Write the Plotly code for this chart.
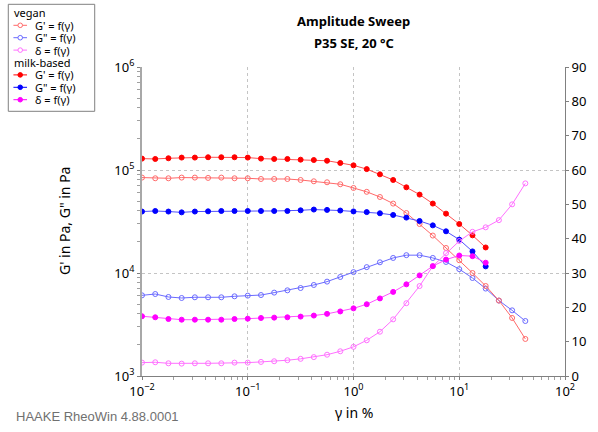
import plotly.graph_objects as go

# Strain amplitude (%), log-spaced measuring points
strain = [0.01, 0.01334, 0.01778, 0.02371, 0.03162, 0.04217, 0.05623, 0.07499,
          0.1, 0.1334, 0.1778, 0.2371, 0.3162, 0.4217, 0.5623, 0.7499,
          1.0, 1.334, 1.778, 2.371, 3.162, 4.217, 5.623, 7.499,
          10.0, 13.34, 17.78, 23.71, 31.62, 42.17]

# vegan sample (30 points)
vegan_gp = [8.44e4, 8.31e4, 8.31e4, 8.44e4, 8.44e4, 8.38e4, 8.44e4, 8.31e4,
            8.31e4, 8.18e4, 8.18e4, 8.18e4, 8.00e4, 7.77e4, 7.60e4, 7.27e4,
            6.69e4, 6.14e4, 5.47e4, 4.72e4, 3.82e4, 2.99e4, 2.31e4, 1.75e4,
            1.33e4, 1.00e4, 7.48e3, 5.40e3, 3.66e3, 2.29e3]
vegan_gpp = [6.07e3, 6.25e3, 5.85e3, 5.72e3, 5.81e3, 5.81e3, 5.81e3, 5.94e3,
             6.03e3, 6.11e3, 6.45e3, 6.79e3, 7.15e3, 7.65e3, 8.25e3, 9.15e3,
             1.02e4, 1.14e4, 1.27e4, 1.40e4, 1.49e4, 1.49e4, 1.40e4, 1.28e4,
             1.09e4, 8.94e3, 7.06e3, 5.40e3, 4.34e3, 3.42e3]
vegan_delta = [3.9, 4.0, 3.7, 3.6, 3.7, 3.7, 3.7, 3.9, 3.9, 4.1, 4.3, 4.6,
               5.0, 5.5, 6.2, 7.2, 8.5, 10.4, 12.9, 16.5, 21.2, 26.2, 32.0,
               35.8, 39.3, 42.0, 43.3, 45.4, 50.0, 56.1]

# milk-based sample (27 points)
milk_gp = [1.29e5, 1.28e5, 1.30e5, 1.32e5, 1.32e5, 1.33e5, 1.33e5, 1.33e5,
           1.32e5, 1.29e5, 1.28e5, 1.28e5, 1.26e5, 1.25e5, 1.23e5, 1.17e5,
           1.11e5, 1.02e5, 9.08e4, 8.00e4, 6.79e4, 5.77e4, 4.72e4, 3.77e4,
           2.99e4, 2.32e4, 1.77e4]
milk_gpp = [3.95e4, 4.00e4, 3.95e4, 3.88e4, 3.95e4, 3.97e4, 4.00e4, 4.00e4,
            4.00e4, 4.00e4, 4.00e4, 4.00e4, 4.06e4, 4.13e4, 4.10e4, 4.04e4,
            3.96e4, 3.90e4, 3.80e4, 3.66e4, 3.45e4, 3.20e4, 2.90e4, 2.54e4,
            2.11e4, 1.62e4, 1.16e4]
milk_delta = [17.4, 17.1, 16.6, 16.4, 16.4, 16.4, 16.4, 16.6, 16.7, 16.9,
              17.0, 17.1, 17.3, 17.6, 18.1, 18.8, 19.7, 20.9, 22.6, 24.5,
              26.7, 29.3, 32.0, 33.9, 35.1, 34.9, 33.0]

# axis ticks
x_tickvals = [0.01, 0.1, 1, 10, 100]
x_ticktext = ["10<sup>−2</sup>", "10<sup>−1</sup>", "10<sup>0</sup>",
              "10<sup>1</sup>", "10<sup>2</sup>"]
y_tickvals = [1e3, 1e4, 1e5, 1e6]
y_ticktext = ["10<sup>3</sup>", "10<sup>4</sup>", "10<sup>5</sup>",
              "10<sup>6</sup>"]

legend_labels = ["G' = f(γ)", 'G" = f(γ)', "δ = f(γ)"]
group_titles = ["vegan", "milk-based"]

FONT = "Noto Sans"
C_GP, C_GPP, C_D = "#ff0000", "#0000ff", "#ff00ff"
V_GP, V_GPP, V_D = "#ff6a6a", "#6a6aff", "#ff70ff"

fig = go.Figure()


def add(y, color, line_color, filled, axis):
    n = len(y)
    fig.add_trace(go.Scatter(
        x=strain[:n], y=y, mode="lines+markers", yaxis=axis, showlegend=False,
        line=dict(color=line_color, width=1),
        marker=dict(size=5,
                    symbol="circle" if filled else "circle-open",
                    color=color, line=dict(color=color, width=1)),
    ))


add(vegan_delta, V_D, V_D, False, "y2")
add(vegan_gpp, V_GPP, V_GPP, False, "y")
add(vegan_gp, V_GP, V_GP, False, "y")
add(milk_delta, C_D, "#ff50ff", True, "y2")
add(milk_gpp, C_GPP, "#5050ff", True, "y")
add(milk_gp, C_GP, "#ff5050", True, "y")

# plot area in pixels
L, R, T, B = 141.7, 577.3, 66.7, 375.7
W, H = R - L, B - T


def px(x):
    return (x - L) / W


def py(y):
    return (B - y) / H


annotations = []
shapes = []

# Title
annotations.append(dict(text="<b>Amplitude Sweep</b>", x=px(360), y=py(20.7),
                        xref="paper", yref="paper", showarrow=False,
                        xanchor="center", yanchor="middle",
                        font=dict(family=FONT, size=13, color="#000000")))
annotations.append(dict(text="<b>P35 SE, 20 °C</b>", x=px(360), y=py(42.3),
                        xref="paper", yref="paper", showarrow=False,
                        xanchor="center", yanchor="middle",
                        font=dict(family=FONT, size=13, color="#000000")))
# Axis titles
annotations.append(dict(text="γ in %", x=px(360), y=py(412),
                        xref="paper", yref="paper", showarrow=False,
                        xanchor="center", yanchor="middle",
                        font=dict(family=FONT, size=14, color="#000000")))
annotations.append(dict(text='G\' in Pa, G" in Pa', x=px(62), y=py(221),
                        xref="paper", yref="paper", showarrow=False,
                        xanchor="center", yanchor="middle", textangle=-90,
                        font=dict(family=FONT, size=14, color="#000000")))
annotations.append(dict(text="HAAKE RheoWin 4.88.0001", x=px(10), y=py(416),
                        xref="paper", yref="paper", showarrow=False,
                        xanchor="left", yanchor="middle",
                        font=dict(family="Liberation Sans", size=13,
                                  color="#707070")))

# Legend box
shapes.append(dict(type="rect", xref="paper", yref="paper",
                   x0=px(4), x1=px(93), y0=py(111), y1=py(4),
                   line=dict(color="#808080", width=1), fillcolor="white",
                   layer="above"))
row_y = [12.6 + i * 12.4 for i in range(8)]
groups = [(group_titles[0], [V_GP, V_GPP, V_D], False),
          (group_titles[1], [C_GP, C_GPP, C_D], True)]
r = 0
for title, colors, filled in groups:
    annotations.append(dict(text=title, x=px(8), y=py(row_y[r]),
                            xref="paper", yref="paper", showarrow=False,
                            xanchor="left", yanchor="middle",
                            font=dict(family=FONT, size=11, color="#000000")))
    r += 1
    for lbl, col in zip(legend_labels, colors):
        yy = py(row_y[r])
        shapes.append(dict(type="line", xref="paper", yref="paper",
                           x0=px(9.3), x1=px(23.3), y0=yy, y1=yy,
                           line=dict(color=col, width=1), layer="above"))
        shapes.append(dict(type="circle", xref="paper", yref="paper",
                           xsizemode="pixel", ysizemode="pixel",
                           xanchor=px(16.3), yanchor=yy,
                           x0=-2.3, x1=2.3, y0=-2.3, y1=2.3,
                           line=dict(color=col, width=1),
                           fillcolor=col if filled else "white",
                           layer="above"))
        annotations.append(dict(text=lbl, x=px(29), y=yy,
                                xref="paper", yref="paper", showarrow=False,
                                xanchor="left", yanchor="middle",
                                font=dict(family=FONT, size=11,
                                          color="#000000")))
        r += 1

grid = dict(showgrid=True, griddash="dot", gridcolor="#c4c4c4", gridwidth=1)

fig.update_layout(
    width=598, height=432,
    margin=dict(l=L, r=598 - R, t=T, b=432 - B, pad=0),
    paper_bgcolor="white", plot_bgcolor="white",
    font=dict(family=FONT, size=13, color="#000000"),
    showlegend=False,
    xaxis=dict(type="log", range=[-2, 2], tickmode="array",
               tickvals=x_tickvals, ticktext=x_ticktext,
               showline=True, linecolor="#808080", linewidth=1,
               ticks="outside", ticklen=3, tickcolor="#808080",
               minor=dict(ticks="outside", ticklen=3, tickcolor="#a0a0a0",
                          dtick="D1", showgrid=False),
               zeroline=False, tickfont=dict(family=FONT, size=13), **grid),
    yaxis=dict(type="log", range=[3, 6], tickmode="array",
               tickvals=y_tickvals, ticktext=y_ticktext,
               showline=True, linecolor="#a8a8a8", linewidth=2,
               ticks="outside", ticklen=3, tickcolor="#808080",
               minor=dict(ticks="outside", ticklen=3, tickcolor="#a0a0a0",
                          dtick="D1", showgrid=False),
               zeroline=False, tickfont=dict(family=FONT, size=13), **grid),
    yaxis2=dict(overlaying="y", side="right", range=[0, 90], dtick=10,
                showgrid=False, showline=True, linecolor="#808080",
                linewidth=1, ticks="outside", ticklen=3, tickcolor="#808080",
                zeroline=False, tickfont=dict(family=FONT, size=13)),
    annotations=annotations,
    shapes=shapes,
)

fig.write_html("out.html")
